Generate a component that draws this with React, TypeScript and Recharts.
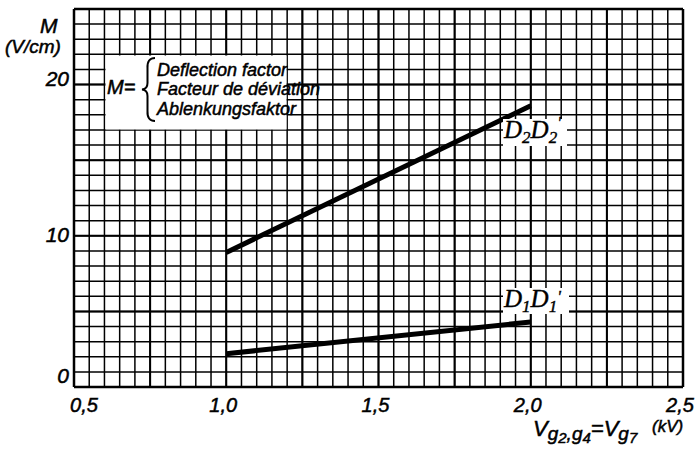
import React from "react";
import { LineChart, Line, XAxis, YAxis, CartesianGrid, ReferenceLine } from "recharts";

// Data
const d2Data = [
  { v: 1.0, m: 8.9 },
  { v: 2.0, m: 18.6 },
];
const d1Data = [
  { v: 1.0, m: 2.2 },
  { v: 2.0, m: 4.3 },
];
const xLabels = [0.5, 1.0, 1.5, 2.0, 2.5];
const yLabels = [0, 10, 20];
const xGrid = Array.from({ length: 41 }, (_, i) => Math.round((0.5 + i * 0.05) * 100) / 100);
const yGrid = Array.from({ length: 26 }, (_, i) => i);
const xMajor = [0.75, 1.0, 1.25, 1.5, 1.75, 2.0, 2.25];
const yMajor = [5, 10, 15, 20];

const FONT = "'Liberation Sans', Arial, sans-serif";
const SERIF = "'Liberation Serif', 'Times New Roman', serif";

const yOffset: Record<number, number> = { 0: -4, 10: 6, 20: 1 };

const txt = { fontFamily: FONT, fontStyle: "italic", fill: "#000", stroke: "#000", strokeWidth: 0.5 } as const;

const XTick = (props: any) => {
  const { x, payload } = props;
  const v = payload.value;
  if (!xLabels.some((l) => Math.abs(l - v) < 1e-6)) return <g />;
  const dx = Math.abs(v - 0.5) < 1e-6 ? 10 : -3;
  return (
    <text x={x + dx} y={412} textAnchor="middle" fontSize={20} {...txt}>
      {v.toFixed(1).replace(".", ",")}
    </text>
  );
};

const YTick = (props: any) => {
  const { y, payload } = props;
  const v = payload.value;
  if (!yLabels.includes(v)) return <g />;
  return (
    <text x={69} y={y + (yOffset[v] ?? 0)} textAnchor="end" fontSize={21} {...txt}>
      {v}
    </text>
  );
};

export default function App() {
  return (
    <div style={{ position: "absolute", left: 0, top: 0, width: 695, height: 451, background: "#fff" }}>
      <LineChart width={695} height={451} data={d2Data} margin={{ top: 9, right: 12, left: 0, bottom: 0 }}>
        <CartesianGrid stroke="#000" strokeWidth={1.5} />
        <XAxis
          dataKey="v"
          type="number"
          domain={[0.5, 2.5]}
          ticks={xGrid}
          interval={0}
          tickLine={false}
          axisLine={{ stroke: "#000", strokeWidth: 2.5 }}
          height={64}
          tick={<XTick />}
          allowDataOverflow
        />
        <YAxis
          type="number"
          domain={[0, 25]}
          ticks={yGrid}
          interval={0}
          tickLine={false}
          axisLine={{ stroke: "#000", strokeWidth: 2.5 }}
          width={74}
          tick={<YTick />}
          allowDataOverflow
        />
        {xMajor.map((v) => (
          <ReferenceLine key={"xm" + v} x={v} stroke="#000" strokeWidth={2} />
        ))}
        {yMajor.map((v) => (
          <ReferenceLine key={"ym" + v} y={v} stroke="#000" strokeWidth={2} />
        ))}
        <ReferenceLine x={2.5} stroke="#000" strokeWidth={2.5} />
        <ReferenceLine y={25} stroke="#000" strokeWidth={2.5} />
        <Line data={d2Data} dataKey="m" type="linear" stroke="#000" strokeWidth={5} dot={false} isAnimationActive={false} />
        <Line data={d1Data} dataKey="m" type="linear" stroke="#000" strokeWidth={5} dot={false} isAnimationActive={false} />
      </LineChart>
      <svg width={695} height={451} style={{ position: "absolute", left: 0, top: 0, pointerEvents: "none" }}>
        <rect x={105.5} y={55.5} width={181} height={74} fill="#fff" />
        <rect x={503} y={119} width={64} height={27} fill="#fff" />
        <rect x={503} y={288} width={66} height={26} fill="#fff" />
        <text x={40} y={33} fontSize={21} {...txt}>M</text>
        <text x={5} y={53} fontSize={19} {...txt}>(V/cm)</text>
        <text x={107} y={94} fontSize={20} {...txt}>M=</text>
        <path
          d="M155,58 Q147,58 147.5,68 L147.5,83 Q147.5,89 142,89.5 Q147.5,90 147.5,96 L147.5,111 Q147,121 155,121"
          fill="none"
          stroke="#000"
          strokeWidth={2}
        />
        <text x={157} y={76} fontSize={18} {...txt}>Deflection factor</text>
        <text x={157} y={95} fontSize={18} {...txt}>Facteur de déviation</text>
        <text x={157} y={115} fontSize={18} {...txt}>Ablenkungsfaktor</text>
        <text x={504} y={138} fontFamily={SERIF} fontStyle="italic" fontSize={25} fill="#000" stroke="#000" strokeWidth={0.4}>
          D<tspan fontSize={17} dy={5}>2</tspan><tspan dy={-5}>D</tspan><tspan fontSize={17} dy={5}>2</tspan><tspan fontSize={17} dy={-15}>'</tspan>
        </text>
        <text x={504} y={307} fontFamily={SERIF} fontStyle="italic" fontSize={25} fill="#000" stroke="#000" strokeWidth={0.4}>
          D<tspan fontSize={17} dy={5}>1</tspan><tspan dy={-5}>D</tspan><tspan fontSize={17} dy={5}>1</tspan><tspan fontSize={17} dy={-10}>'</tspan>
        </text>
        <text x={533} y={436} fontSize={22} {...txt}>
          V<tspan fontSize={19} dy={4}>g</tspan><tspan fontSize={15} dy={3}>2</tspan><tspan fontSize={19} dy={-3}>,g</tspan><tspan fontSize={15} dy={3}>4</tspan><tspan fontSize={22} dy={-7}>=V</tspan><tspan fontSize={19} dy={4}>g</tspan><tspan fontSize={15} dy={3}>7</tspan>
        </text>
        <text x={652} y={432} fontSize={17} {...txt}>(kV)</text>
      </svg>
    </div>
  );
}
